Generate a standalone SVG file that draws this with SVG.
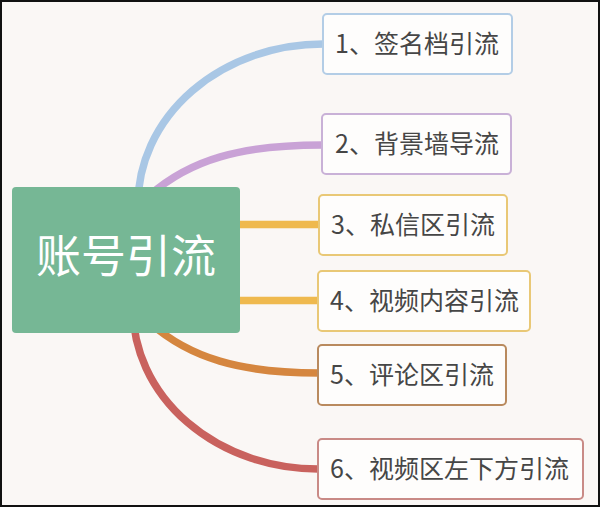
<svg xmlns="http://www.w3.org/2000/svg" width="600" height="508" viewBox="0 0 600 508">
<style>
.bg{fill:#faf7f5;stroke:#111;stroke-width:2}
.c{fill:none;stroke-width:7.5;stroke-linecap:butt}
.n{fill:#fefdfc;stroke-width:2}
.t{font-family:"Noto Sans CJK SC","Noto Sans",sans-serif;font-size:25px;fill:#464646}
.m{font-family:"Noto Sans CJK SC","Noto Sans",sans-serif;font-size:45px;fill:#ffffff;text-anchor:middle}
</style>
<rect class="bg" x="1" y="1" width="598" height="505"/>
<g id="connectors">
<path class="c" stroke="#a9c7e5" d="M138,204 A185,160 0 0 1 323,44"/>
<path class="c" stroke="#c9a2d6" d="M150,195 C190,160 240,145 322,145"/>
<path class="c" stroke="#efb94e" d="M230,224.5 H320"/>
<path class="c" stroke="#efb94e" d="M230,300.5 H319"/>
<path class="c" stroke="#d5863f" d="M150,323 C190,358 240,373 319,373"/>
<path class="c" stroke="#c9625e" d="M133,309 A185,160 0 0 0 319,469"/>
</g>
<g id="root">
<rect x="12" y="187" width="228" height="146" rx="4" fill="#76b795"/>
<text class="m" x="126" y="273">账号引流</text>
</g>
<g id="n1">
<rect class="n" x="323" y="14" width="189" height="60" rx="4" stroke="#b3cde6"/>
<text class="t" x="335" y="53">1、签名档引流</text>
</g>
<g id="n2">
<rect class="n" x="322" y="114" width="189" height="60" rx="4" stroke="#c9b1d7"/>
<text class="t" x="335" y="153">2、背景墙导流</text>
</g>
<g id="n3">
<rect class="n" x="319" y="195" width="188" height="60" rx="4" stroke="#e9c876"/>
<text class="t" x="331" y="234">3、私信区引流</text>
</g>
<g id="n4">
<rect class="n" x="318" y="271" width="212" height="60" rx="4" stroke="#e9c876"/>
<text class="t" x="330" y="310">4、视频内容引流</text>
</g>
<g id="n5">
<rect class="n" x="318" y="345" width="188" height="60" rx="4" stroke="#b98a5e"/>
<text class="t" x="330" y="384">5、评论区引流</text>
</g>
<g id="n6">
<rect class="n" x="318" y="439" width="265" height="60" rx="4" stroke="#c98a86"/>
<text class="t" x="330" y="478">6、视频区左下方引流</text>
</g>
</svg>
